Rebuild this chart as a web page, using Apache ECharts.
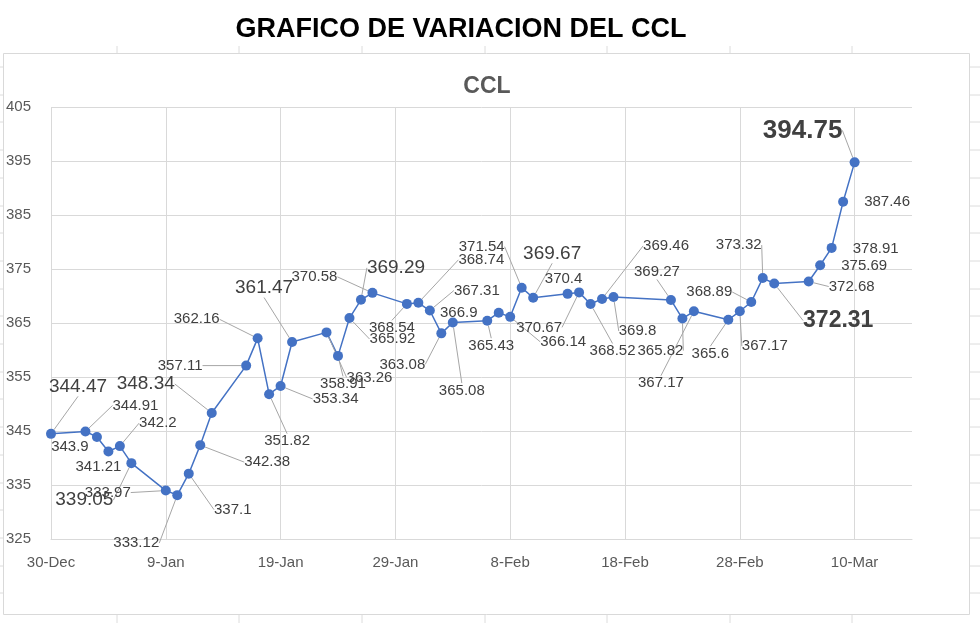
<!DOCTYPE html>
<html>
<head>
<meta charset="utf-8">
<script src="https://cdn.jsdelivr.net/npm/echarts@6/dist/echarts.min.js"></script>
<style>
html,body{margin:0;padding:0;background:#ffffff;}
#chart{width:980px;height:623px;}
</style>
</head>
<body>
<div id="chart"></div>
<script>
// ---------- DATA ----------
const dates = [
  '2022-12-30','2023-01-02','2023-01-03','2023-01-04','2023-01-05','2023-01-06',
  '2023-01-09','2023-01-10','2023-01-11','2023-01-12','2023-01-13',
  '2023-01-16','2023-01-17','2023-01-18','2023-01-19','2023-01-20',
  '2023-01-23','2023-01-24','2023-01-25','2023-01-26','2023-01-27',
  '2023-01-30','2023-01-31','2023-02-01','2023-02-02','2023-02-03',
  '2023-02-06','2023-02-07','2023-02-08','2023-02-09','2023-02-10',
  '2023-02-13','2023-02-14','2023-02-15','2023-02-16','2023-02-17',
  '2023-02-22','2023-02-23','2023-02-24',
  '2023-02-27','2023-02-28','2023-03-01','2023-03-02','2023-03-03',
  '2023-03-06','2023-03-07','2023-03-08','2023-03-09','2023-03-10'
];
const values = [
  344.47, 344.91, 343.9, 341.21, 342.2, 339.05,
  333.97, 333.12, 337.1, 342.38, 348.34,
  357.11, 362.16, 351.82, 353.34, 361.47,
  363.26, 358.91, 365.92, 369.29, 370.58,
  368.54, 368.74, 367.31, 363.08, 365.08,
  365.43, 366.9, 366.14, 371.54, 369.67,
  370.4, 370.67, 368.52, 369.46, 369.8,
  369.27, 365.82, 367.17,
  365.6, 367.17, 368.89, 373.32, 372.31,
  372.68, 375.69, 378.91, 387.46, 394.75
];
const tickLabels = ['30-Dec','9-Jan','19-Jan','29-Jan','8-Feb','18-Feb','28-Feb','10-Mar'];
const yTicks = {min: 325, max: 405, step: 10};

// ---------- LABEL LAYOUT (offset dx, dy, style kind, leader line) ----------
const labelLayoutCfg = [
  [27,-47,1,1],[50,-26,0,1],[-27,10,0,0],[-10,15,0,0],[38,-23,0,1],[-47,37,1,1],
  [-58,2,0,1],[-41,48,0,1],[44,36,0,1],[67,17,0,1],[-66,-29,1,1],
  [-66,0,0,1],[-61,-19,0,1],[18,47,0,1],[55,13,0,1],[-28,-54,1,1],
  [43,45,0,1],[5,28,0,1],[43,21,0,1],[35,-32,1,1],[-58,-16,0,1],
  [-15,24,0,1],[63,-43,0,1],[47,-20,0,1],[-39,31,0,1],[9,68,0,1],
  [4,25,0,1],[-40,0,0,0],[53,25,0,1],[-40,-41,0,1],[19,-44,1,1],
  [-4,-15,0,0],[-40,35,0,1],[22,47,0,1],[64,-53,0,1],[24,34,0,1],
  [-14,-28,0,1],[-22,32,0,1],[-33,72,0,1],
  [-18,34,0,1],[25,35,0,1],[-42,-10,0,1],[-24,-33,0,1],[64,37,2,1],
  [43,5,0,1],[44,1,0,0],[44,1,0,0],[44,0,0,0],[-52,-32,3,1]
];
const labelKinds = [
  {fontSize: 15, fontWeight: 'normal'},
  {fontSize: 19, fontWeight: 'normal'},
  {fontSize: 23, fontWeight: 'bold'},
  {fontSize: 26, fontWeight: 'bold'}
];

const FONT = '"Liberation Sans", Arial, sans-serif';
const DAY = 86400000;
const t0 = Date.parse(dates[0]);
const dayOffsets = dates.map(d => Math.round((Date.parse(d) - t0) / DAY));

const seriesData = values.map((v, i) => {
  const cfg = labelLayoutCfg[i];
  const kind = labelKinds[cfg[2]];
  return {
    value: [dayOffsets[i], v],
    label: {fontSize: kind.fontSize, fontWeight: kind.fontWeight},
    labelLine: {show: !!cfg[3]}
  };
});

// sheet gridline stubs around the chart frame (decoration)
const gridColor = '#dcdcdc';
const graphics = [];
const cols = [117, 239, 362, 485, 607, 730, 852];
const rows = [];
for (let k = 0; k < 20; k++) rows.push(Math.round(67 + 27.7 * k));
cols.forEach(x => {
  graphics.push({type: 'line', shape: {x1: x, y1: 46, x2: x, y2: 53}, style: {stroke: gridColor, lineWidth: 1}, silent: true});
  graphics.push({type: 'line', shape: {x1: x, y1: 615, x2: x, y2: 623}, style: {stroke: gridColor, lineWidth: 1}, silent: true});
});
rows.forEach(y => {
  graphics.push({type: 'line', shape: {x1: 0, y1: y, x2: 3, y2: y}, style: {stroke: gridColor, lineWidth: 1}, silent: true});
  graphics.push({type: 'line', shape: {x1: 970, y1: y, x2: 980, y2: y}, style: {stroke: gridColor, lineWidth: 1}, silent: true});
});
graphics.push({type: 'rect', shape: {x: 3.5, y: 53.5, width: 966, height: 561}, style: {fill: 'none', stroke: '#d9d9d9', lineWidth: 1}, silent: true, z: -1});
graphics.push({type: 'text', style: {text: 'GRAFICO DE VARIACION DEL CCL', x: 461, y: 30, textAlign: 'center', textVerticalAlign: 'middle', font: 'bold 27px ' + FONT, fill: '#000000'}, silent: true});
graphics.push({type: 'text', style: {text: 'CCL', x: 487, y: 87, textAlign: 'center', textVerticalAlign: 'middle', font: 'bold 23px ' + FONT, fill: '#595959'}, silent: true});

const chart = echarts.init(document.getElementById('chart'), null, {renderer: 'canvas'});
chart.setOption({
  animation: false,
  backgroundColor: '#ffffff',
  graphic: graphics,
  grid: {left: 51, right: 68, top: 107, bottom: 84, containLabel: false},
  xAxis: {
    type: 'value',
    min: 0,
    max: 75,
    interval: 10,
    axisLine: {show: true, lineStyle: {color: '#d9d9d9', width: 1}},
    axisTick: {show: false},
    splitLine: {show: true, showMaxLine: false, lineStyle: {color: '#d9d9d9', width: 1}},
    axisLabel: {
      color: '#595959', fontSize: 15, fontFamily: FONT, margin: 16,
      showMaxLabel: false,
      formatter: v => (v % 10 === 0 && v / 10 < tickLabels.length) ? tickLabels[v / 10] : ''
    }
  },
  yAxis: {
    type: 'value',
    min: yTicks.min,
    max: yTicks.max,
    interval: yTicks.step,
    axisLine: {show: false},
    axisTick: {show: false},
    splitLine: {show: true, lineStyle: {color: '#d9d9d9', width: 1}},
    axisLabel: {color: '#595959', fontSize: 15, fontFamily: FONT, align: 'left', margin: 45}
  },
  series: [{
    type: 'line',
    data: seriesData,
    symbol: 'circle',
    symbolSize: 10,
    lineStyle: {color: '#4472C4', width: 1.5},
    itemStyle: {color: '#4472C4'},
    label: {
      show: true,
      position: 'inside',
      color: '#404040',
      fontFamily: FONT,
      fontSize: 15,
      formatter: p => String(p.value[1])
    },
    labelLine: {show: true, lineStyle: {color: '#a6a6a6', width: 1}},
    labelLayout: params => {
      const cfg = labelLayoutCfg[params.dataIndex];
      return {dx: cfg[0], dy: cfg[1]};
    }
  }]
});
</script>
</body>
</html>
